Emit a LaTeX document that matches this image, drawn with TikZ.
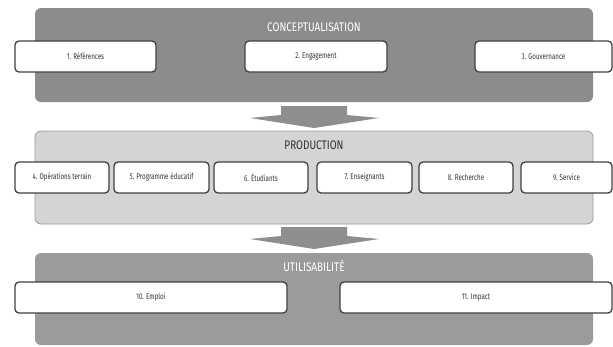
\documentclass[tikz,border=0pt]{standalone}
\usepackage{fontspec}
\setmainfont{Fira Sans}[FakeStretch=0.74]
\newfontfamily\titlefont{Fira Sans}[FakeStretch=0.8]
\definecolor{darkpanel}{HTML}{8C8C8C}
\definecolor{midpanel}{HTML}{9B9B9B}
\definecolor{lightpanel}{HTML}{D4D4D4}
\definecolor{lightborder}{HTML}{9A9A9A}
\definecolor{boxborder}{HTML}{404040}
\definecolor{arrowgray}{HTML}{8E8E8E}
\begin{document}
\begin{tikzpicture}[x=1pt,y=-1pt,
  panel/.style={rounded corners=6pt},
  itembox/.style={draw=boxborder,line width=1.3pt,fill=white,rounded corners=4pt,
    font=\fontsize{8.4}{10}\selectfont,text=black!80},
  titletext/.style={font=\titlefont\fontsize{12.5}{14}\selectfont},
  blockarrow/.style={fill=arrowgray,draw=none}]
\useasboundingbox (0,0) rectangle (613,346);
% panels
\fill[darkpanel,panel] (35,8) rectangle (593,102);
\node[titletext,text=white] (t1) at (314,27) {CONCEPTUALISATION};
\filldraw[fill=lightpanel,draw=lightborder,line width=0.8pt,panel] (35,131) rectangle (593,224);
\node[titletext,text=black!80] (t2) at (314,145) {PRODUCTION};
\fill[midpanel,panel] (35,253) rectangle (593,345);
\node[titletext,text=white] (t3) at (314,266) {UTILISABILITÉ};
% boxes row 1
\draw[itembox] (15,41) rectangle (156,72) node[midway] (b1) {1. Références};
\draw[itembox] (245,41) rectangle (387,72) node[midway] (b2) {2. Engagement};
\draw[itembox] (475,41) rectangle (612,72) node[midway] (b3) {3. Gouvernance};
% boxes row 2
\draw[itembox] (15,162) rectangle (109,193) node[midway] (b4) {4. Opérations terrain};
\draw[itembox] (114,162) rectangle (209,193) node[midway] (b5) {5. Programme éducatif};
\draw[itembox] (214,162) rectangle (308,193) node[midway] (b6) {6. Étudiants};
\draw[itembox] (317,162) rectangle (412,193) node[midway] (b7) {7. Enseignants};
\draw[itembox] (419,162) rectangle (513,193) node[midway] (b8) {8. Recherche};
\draw[itembox] (521,162) rectangle (612,193) node[midway] (b9) {9. Service};
% boxes row 3
\draw[itembox] (15,282) rectangle (287,313) node[midway] (b10) {10. Emploi};
\draw[itembox] (340,282) rectangle (612,313) node[midway] (b11) {11. Impact};
% block arrows
\fill[blockarrow] (281,106) -- (347,106) -- (347,115) -- (379,118) -- (314,128) -- (250,118) -- (281,115) -- cycle;
\fill[blockarrow] (281,227) -- (347,227) -- (347,236) -- (379,239) -- (314,249) -- (250,239) -- (281,236) -- cycle;
\end{tikzpicture}
\end{document}
